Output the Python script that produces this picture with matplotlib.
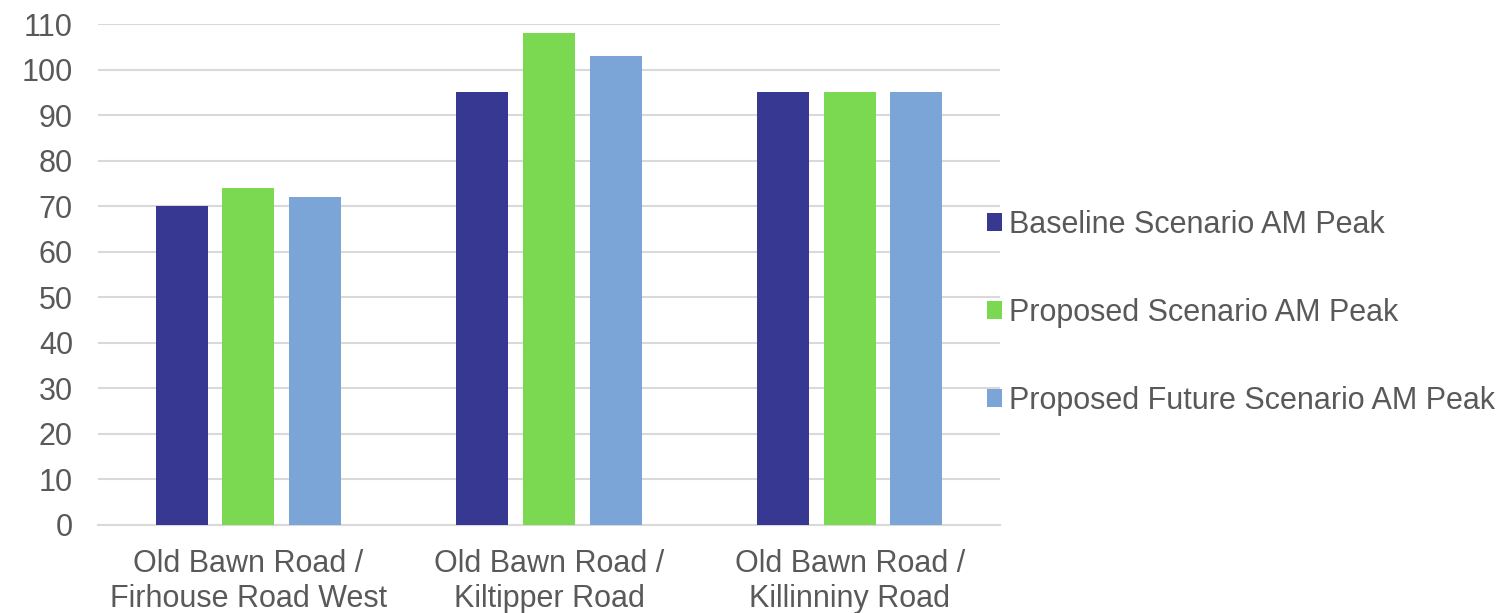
import numpy as np
import matplotlib
matplotlib.use("Agg")
import matplotlib.pyplot as plt

categories = ["Old Bawn Road /\nFirhouse Road West",
              "Old Bawn Road /\nKiltipper Road",
              "Old Bawn Road /\nKillinniny Road"]
series_names = ["Baseline Scenario AM Peak",
                "Proposed Scenario AM Peak",
                "Proposed Future Scenario AM Peak"]
baseline = [70, 95, 95]
proposed = [74, 108, 95]
future = [72, 103, 95]
yticks = list(range(0, 111, 10))

colors = ["#363891", "#7AD851", "#7BA5D7"]
text_color = "#595959"
grid_color = "#D9D9D9"

plt.rcParams["font.family"] = ["Liberation Sans", "DejaVu Sans"]

fig = plt.figure(figsize=(15.12, 6.13), dpi=100)
ax = fig.add_axes([98 / 1512, 1 - 525 / 613, 902 / 1512, 501 / 613])

x = np.arange(len(categories))
width = 0.173
offset = 0.222
for i, (vals, name) in enumerate(zip([baseline, proposed, future], series_names)):
    ax.bar(x + (i - 1) * offset, vals, width, color=colors[i], label=name, zorder=3)

ax.set_xlim(-0.5, 2.5)
ax.set_ylim(0, 110)
ax.set_yticks(yticks)
ax.set_xticks(x)
ax.set_xticklabels(categories, fontsize=22, color=text_color, linespacing=1.25)
ax.tick_params(axis="y", labelsize=22, labelcolor=text_color, length=0, pad=18)
ax.tick_params(axis="x", length=0, pad=17)
ax.grid(axis="y", color=grid_color, linewidth=1.5, zorder=0)
for side in ["top", "right", "left"]:
    ax.spines[side].set_visible(False)
ax.spines["bottom"].set_color(grid_color)
ax.spines["bottom"].set_linewidth(1.5)

leg = fig.legend(loc="center left", bbox_to_anchor=(987 / 1512, 1 - 313 / 613),
                 frameon=False, fontsize=22, handlelength=0.5, handleheight=0.5,
                 handletextpad=0.23, labelspacing=1.9, borderpad=0,
                 borderaxespad=0)
for t in leg.get_texts():
    t.set_color(text_color)

fig.savefig("out.png", dpi=100)
